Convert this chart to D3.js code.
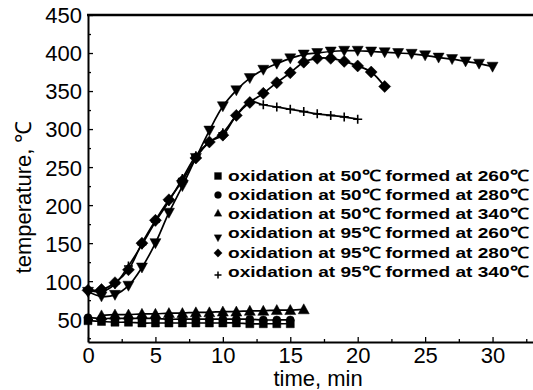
<!DOCTYPE html>
<html><head><meta charset="utf-8">
<script src="https://cdn.jsdelivr.net/npm/d3@7"></script>
<style>body{margin:0;background:#fff} svg{display:block}</style>
</head><body><svg id="c" width="533" height="390"></svg>
<script>
// ---- data ----
const legendLabels = [
  "oxidation at 50\u2103 formed at 260\u2103",
  "oxidation at 50\u2103 formed at 280\u2103",
  "oxidation at 50\u2103 formed at 340\u2103",
  "oxidation at 95\u2103 formed at 260\u2103",
  "oxidation at 95\u2103 formed at 280\u2103",
  "oxidation at 95\u2103 formed at 340\u2103"
];
const t0to15 = [0,1,2,3,4,5,6,7,8,9,10,11,12,13,14,15];
const t1to16 = [1,2,3,4,5,6,7,8,9,10,11,12,13,14,15,16];
const t0to30 = [0,1,2,3,4,5,6,7,8,9,10,11,12,13,14,15,16,17,18,19,20,21,22,23,24,25,26,27,28,29,30];
const t0to22 = [0,1,2,3,4,5,6,7,8,9,10,11,12,13,14,15,16,17,18,19,20,21,22];
const t0to20 = [0,1,2,3,4,5,6,7,8,9,10,11,12,13,14,15,16,17,18,19,20];

const ox50f260 = [48,47,46,46,45,45,45,45,45,45,45,45,44,44,44,44];
const ox50f280 = [52,51,51,51,51,51,50,50,50,50,50,50,50,49,49,49];
const ox50f340 = [55,56,56,57,57,58,58,59,59,60,60,61,61,62,62,63];
const ox95f260 = [86,80,82,94,118,150,190,225,262,298,330,351,367,378,386,393,398,400,402,403,403,402,401,400,399,397,394,392,389,386,382];
const ox95f280 = [88,89,98,115,150,180,207,232,262,283,292,318,335,347,361,374,388,393,393,389,383,375,356];
const ox95f340 = [88,86,96,120,148,178,205,235,265,283,295,318,336,332,329,326,323,320,318,316,313];

const yTickValues = [50,100,150,200,250,300,350,400,450];
const xTickValues = [0,5,10,15,20,25,30];

const series = [
  {x:t0to15, y:ox50f260, sym:"square"},
  {x:t0to15, y:ox50f280, sym:"circle"},
  {x:t1to16, y:ox50f340, sym:"tri"},
  {x:t0to30, y:ox95f260, sym:"itri"},
  {x:t0to22, y:ox95f280, sym:"diamond"},
  {x:t0to20, y:ox95f340, sym:"plus"}
];

// ---- layout ----
const svg = d3.select("#c");
const L = 88, R = 533, T = 15, B = 342;
const x = d3.scaleLinear().domain([0,33]).range([L,R]);
const y = d3.scaleLinear().domain([20,450]).range([B,T]);

function symPath(type, s){
  const p = d3.path();
  if(type==="square"){ p.rect(-s/2,-s/2,s,s); }
  else if(type==="circle"){ p.arc(0,0,s/2,0,2*Math.PI); }
  else if(type==="tri"){ p.moveTo(0,-s*0.55); p.lineTo(s*0.55,s*0.45); p.lineTo(-s*0.55,s*0.45); p.closePath(); }
  else if(type==="itri"){ p.moveTo(0,s*0.55); p.lineTo(s*0.55,-s*0.45); p.lineTo(-s*0.55,-s*0.45); p.closePath(); }
  else if(type==="diamond"){ p.moveTo(0,-s*0.6); p.lineTo(s*0.6,0); p.lineTo(0,s*0.6); p.lineTo(-s*0.6,0); p.closePath(); }
  else if(type==="plus"){ p.moveTo(-s/2,0); p.lineTo(s/2,0); p.moveTo(0,-s/2); p.lineTo(0,s/2); }
  return p.toString();
}

// axes
const font = "'Liberation Sans', Arial, sans-serif";
const yAxis = d3.axisLeft(y).tickValues(yTickValues).tickSizeInner(-5).tickSizeOuter(0).tickPadding(6);
const gy = svg.append("g").attr("transform",`translate(${L},0)`).call(yAxis);
const yMinor = d3.axisLeft(y).tickValues([25,75,125,175,225,275,325,375,425]).tickSizeInner(-3).tickSizeOuter(0).tickFormat("");
svg.append("g").attr("transform",`translate(${L},0)`).call(yMinor).select(".domain").remove();

const xAxis = d3.axisBottom(x).tickValues(xTickValues).tickSizeInner(-5).tickSizeOuter(0).tickPadding(5);
const gx = svg.append("g").attr("transform",`translate(0,${B})`).call(xAxis);
const xMinor = d3.axisBottom(x).tickValues([2.5,7.5,12.5,17.5,22.5,27.5,32.5]).tickSizeInner(-3).tickSizeOuter(0).tickFormat("");
svg.append("g").attr("transform",`translate(0,${B})`).call(xMinor).select(".domain").remove();

svg.selectAll(".domain").attr("stroke","#000").attr("stroke-width",2);
svg.selectAll(".tick line").attr("stroke","#000").attr("stroke-width",1.3);
svg.selectAll(".tick text").attr("font-family",font).attr("font-size",22).attr("fill","#000");
gy.selectAll(".tick text").attr("dy","0.36em");

// top frame
svg.append("line").attr("x1",L-1).attr("x2",R).attr("y1",y(450)).attr("y2",y(450)).attr("stroke","#000").attr("stroke-width",2.5);

// axis titles
svg.append("text").attr("x",318).attr("y",386).attr("text-anchor","middle")
  .attr("font-family",font).attr("font-size",22).text("time, min");
svg.append("text").attr("transform","translate(31,197) rotate(-90)").attr("text-anchor","middle")
  .attr("font-family",font).attr("font-size",22).text("temperature, \u2103");

// series
const line = d3.line().curve(d3.curveCatmullRom.alpha(0.5));
series.forEach(s=>{
  const pts = s.x.map((t,i)=>[x(t),y(s.y[i])]);
  svg.append("path").attr("d",line(pts)).attr("fill","none").attr("stroke","#000").attr("stroke-width",1.7);
  const g = svg.append("g");
  pts.forEach(p=>{
    const sz = s.sym==="square"?8:(s.sym==="circle"?8:(s.sym==="plus"?9:10));
    g.append("path").attr("d",symPath(s.sym,sz)).attr("transform",`translate(${p[0]},${p[1]})`)
      .attr("fill",s.sym==="plus"?"none":"#000").attr("stroke","#000").attr("stroke-width",s.sym==="plus"?1.6:0.5);
  });
});

// legend
const legY = [176,195,214,233,253,272];
const legSymY = [176,195,213,238,253,275];
legendLabels.forEach((lab,i)=>{
  const sym = series[i].sym;
  svg.append("path").attr("d",symPath(sym, 7)).attr("transform",`translate(218,${legSymY[i]})`)
    .attr("fill",sym==="plus"?"none":"#000").attr("stroke","#000").attr("stroke-width",sym==="plus"?1.5:0.3);
  svg.append("text").attr("x",228).attr("y",legY[i]).attr("dy","0.35em")
    .attr("font-family",font).attr("font-size",15.5).attr("font-weight","bold")
    .attr("textLength",300).attr("lengthAdjust","spacingAndGlyphs").text(lab);
});
</script></body></html>
